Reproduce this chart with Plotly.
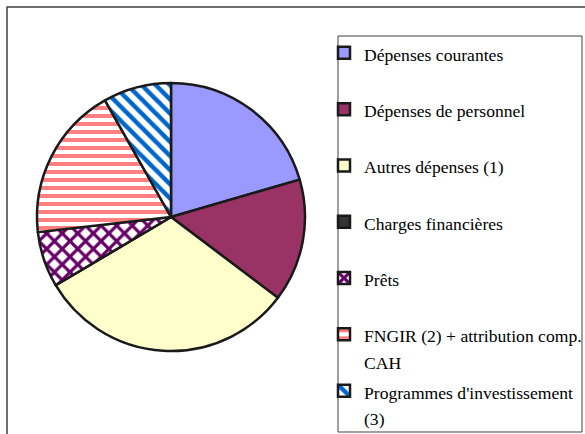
import plotly.graph_objects as go

labels = ["Dépenses courantes", "Dépenses de personnel", "Autres dépenses (1)",
          "Charges financières", "Prêts", "FNGIR (2) + attribution comp.<br>CAH",
          "Programmes d'investissement<br>(3)"]
values = [20.5, 14.8, 31.2, 0.0, 6.7, 18.6, 8.2]
colors = ["#9999FF", "#993366", "#FFFFCC", "#333333", "#FFFFFF", "#FFFFFF", "#FFFFFF"]
pat_shapes = ["", "", "", "", "x", "-", "\\"]
pat_fg = ["#000000", "#000000", "#000000", "#000000", "#660066", "#FF8080", "#0066CC"]
pat_size = [8, 8, 8, 8, 11, 8, 10]
pat_solid = [0.3, 0.3, 0.3, 0.3, 0.5, 0.5, 0.45]

W, H = 585, 434
FONT = "Liberation Serif, Times New Roman, serif"

def leg_text(t):
    # pad every entry to two lines so that all entries have the same height
    if "<br>" not in t:
        t = t + "<br> "
    return "<span style='font-size:17.6px'>" + t + "</span>"

fig = go.Figure(go.Pie(
    labels=[leg_text(l) for l in labels],
    values=values,
    sort=False,
    direction="clockwise",
    rotation=0,
    textinfo="none",
    marker=dict(
        colors=colors,
        line=dict(color="#1a1a1a", width=2.5),
        pattern=dict(shape=pat_shapes, fgcolor=pat_fg, bgcolor=colors,
                     size=pat_size, solidity=pat_solid, fillmode="replace"),
    ),
    domain=dict(x=[(171 - 134) / W, (171 + 134) / W], y=[(434 - 351) / H, (434 - 83) / H]),
))

fig.update_layout(
    width=W, height=H,
    margin=dict(l=0, r=0, t=0, b=0, autoexpand=False),
    paper_bgcolor="white",
    font=dict(family=FONT, color="#000000"),
    showlegend=True,
    legend=dict(
        x=324 / W, xanchor="left", y=1 - 33 / H, yanchor="top",
        font=dict(family=FONT, size=20.5, color="#000000"),
        valign="top", borderwidth=0, bgcolor="rgba(0,0,0,0)",
        traceorder="normal",
    ),
    shapes=[
        dict(type="rect", xref="paper", yref="paper", x0=7 / W, x1=1.2, y0=-0.2, y1=1 - 7 / H,
             line=dict(color="#404040", width=1.5), layer="below"),
        dict(type="rect", xref="paper", yref="paper", x0=338 / W, x1=582 / W, y0=1 - 432 / H,
             y1=1 - 36 / H, line=dict(color="#404040", width=1), layer="below"),
    ],
)

fig.write_html("out.html", config={"displayModeBar": False},
               post_script="document.body.style.margin='0';document.body.style.overflow='hidden';")
